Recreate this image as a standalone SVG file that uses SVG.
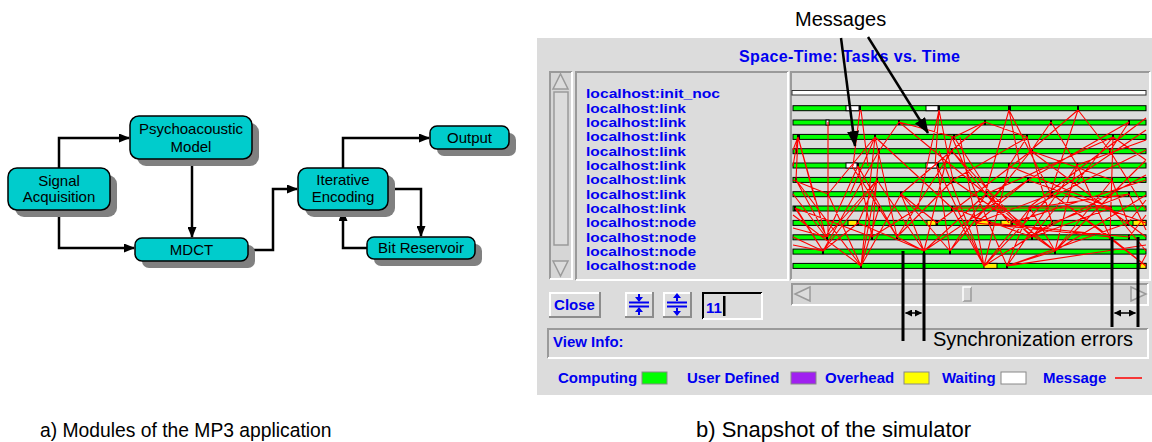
<svg xmlns="http://www.w3.org/2000/svg" width="1152" height="442" viewBox="0 0 1152 442">
<style>
.sh{fill:#808080}
.bx{fill:#00cccc;stroke:#000;stroke-width:1.5}
.t{font-family:"Liberation Sans",Arial,sans-serif;font-size:15px;fill:#000;text-anchor:middle}
.cn{fill:none;stroke:#000;stroke-width:2.5}
.cap{font-family:"Liberation Sans",Arial,sans-serif;font-size:19.3px;fill:#000}
.ann{font-family:"Liberation Sans",Arial,sans-serif;font-size:20px;fill:#000}
.b{font-family:"Liberation Sans",Arial,sans-serif;font-weight:bold;font-size:15px;fill:#0000f0}
.lb{font-family:"Liberation Sans",Arial,sans-serif;font-weight:bold;font-size:13.4px;fill:#0000f0}
.bar{fill:#00ff00;stroke:#000;stroke-width:1}
.mk{fill:#000}
.wt{fill:#fff;stroke:#000;stroke-width:1}
.yl{fill:#ffee00;stroke:#000;stroke-width:1}
.dk{stroke:#9a9a9a;stroke-width:2;fill:none}
.lt{stroke:#fff;stroke-width:2;fill:none}
.msg{fill:none;stroke:#ff0000;stroke-width:1.1}
.ico{stroke:#0000f0;stroke-width:2;fill:none}
</style>
<defs>
<marker id="ah" markerUnits="userSpaceOnUse" markerWidth="11" markerHeight="9" refX="10" refY="4.5" orient="auto"><path d="M0,0 L11,4.5 L0,9 z" fill="#000"/></marker>
<marker id="ahb" markerUnits="userSpaceOnUse" markerWidth="16" markerHeight="12" refX="15" refY="6" orient="auto"><path d="M0,0 L16,6 L0,12 z" fill="#000"/></marker>
<marker id="ahs" markerUnits="userSpaceOnUse" markerWidth="7" markerHeight="7" refX="6.5" refY="3.5" orient="auto-start-reverse"><path d="M0,0 L7,3.5 L0,7 z" fill="#000"/></marker>
</defs>
<rect width="1152" height="442" fill="#fff"/>

<!-- Left diagram -->
<g id="connectors">
<path class="cn" d="M59,168 V138 H129" marker-end="url(#ah)"/>
<path class="cn" d="M59,210 V248 H134" marker-end="url(#ah)"/>
<path class="cn" d="M192,159 V237" marker-end="url(#ah)"/>
<path class="cn" d="M248,250 H273 V189 H297" marker-end="url(#ah)"/>
<path class="cn" d="M343,168 V138 H429" marker-end="url(#ah)"/>
<path class="cn" d="M388,189 H421 V236" marker-end="url(#ah)"/>
<path class="cn" d="M367,248 H343 V211" marker-end="url(#ah)"/>
</g>
<g id="signal">
<rect class="sh" x="15" y="175" width="102" height="42" rx="9"/>
<rect class="bx" x="8" y="168" width="102" height="42" rx="9"/>
<text class="t" x="59" y="186">Signal</text>
<text class="t" x="59" y="202">Acquisition</text>
</g>
<g id="psycho">
<rect class="sh" x="137" y="123" width="122" height="43" rx="9"/>
<rect class="bx" x="130" y="116" width="122" height="43" rx="9"/>
<text class="t" x="191" y="134">Psychoacoustic</text>
<text class="t" x="191" y="152">Model</text>
</g>
<g id="mdct">
<rect class="sh" x="142" y="245" width="113" height="23" rx="7"/>
<rect class="bx" x="135" y="238" width="113" height="23" rx="7"/>
<text class="t" x="191.5" y="255">MDCT</text>
</g>
<g id="iterative">
<rect class="sh" x="305" y="175" width="90" height="42" rx="9"/>
<rect class="bx" x="298" y="168" width="90" height="42" rx="9"/>
<text class="t" x="343" y="185">Iterative</text>
<text class="t" x="343" y="202">Encoding</text>
</g>
<g id="output">
<rect class="sh" x="437" y="133" width="79" height="23" rx="7"/>
<rect class="bx" x="430" y="126" width="79" height="23" rx="7"/>
<text class="t" x="469.5" y="143">Output</text>
</g>
<g id="bitres">
<rect class="sh" x="374" y="244" width="108" height="22" rx="7"/>
<rect class="bx" x="367" y="237" width="108" height="22" rx="7"/>
<text class="t" x="421" y="253">Bit Reservoir</text>
</g>
<text class="cap" x="40" y="437">a) Modules of the MP3 application</text>

<!-- Simulator snapshot -->
<g id="simulator">
<rect x="537" y="38" width="615" height="357" fill="#dcdcdc"/>
<text class="b" x="739" y="62" style="font-size:16px" textLength="221">Space-Time: Tasks vs. Time</text>

<!-- vertical scrollbar -->
<rect x="549" y="71" width="23" height="208" fill="#d6d6d6"/>
<path class="dk" d="M550,279 V72 H572"/>
<path class="lt" d="M572,72 V279 H550"/>
<path d="M553,89 L560.5,74 L568,89 Z" fill="#dcdcdc" stroke="#9a9a9a" stroke-width="1.5"/>
<path d="M554,92 H568 V245 H554 Z" fill="#dcdcdc" stroke="#9a9a9a" stroke-width="1.5"/>
<path d="M553,261 L560.5,276 L568,261 Z" fill="#dcdcdc" stroke="#9a9a9a" stroke-width="1.5"/>

<!-- label panel -->
<rect x="575" y="71" width="213" height="209" fill="#dcdcdc"/>
<path class="dk" d="M576,280 V72 H788"/>
<path class="lt" d="M788,72 V280 H576"/>
<g lengthAdjust="spacingAndGlyphs">
<text class="lb" x="586" y="98.3" textLength="134" lengthAdjust="spacingAndGlyphs">localhost:init_noc</text>
<text class="lb" x="586" y="112.6" textLength="100" lengthAdjust="spacingAndGlyphs">localhost:link</text>
<text class="lb" x="586" y="127" textLength="100" lengthAdjust="spacingAndGlyphs">localhost:link</text>
<text class="lb" x="586" y="141.3" textLength="100" lengthAdjust="spacingAndGlyphs">localhost:link</text>
<text class="lb" x="586" y="155.6" textLength="100" lengthAdjust="spacingAndGlyphs">localhost:link</text>
<text class="lb" x="586" y="170" textLength="100" lengthAdjust="spacingAndGlyphs">localhost:link</text>
<text class="lb" x="586" y="184.3" textLength="100" lengthAdjust="spacingAndGlyphs">localhost:link</text>
<text class="lb" x="586" y="198.6" textLength="100" lengthAdjust="spacingAndGlyphs">localhost:link</text>
<text class="lb" x="586" y="213" textLength="100" lengthAdjust="spacingAndGlyphs">localhost:link</text>
<text class="lb" x="586" y="227.3" textLength="110" lengthAdjust="spacingAndGlyphs">localhost:node</text>
<text class="lb" x="586" y="241.6" textLength="110" lengthAdjust="spacingAndGlyphs">localhost:node</text>
<text class="lb" x="586" y="256" textLength="110" lengthAdjust="spacingAndGlyphs">localhost:node</text>
<text class="lb" x="586" y="270.3" textLength="110" lengthAdjust="spacingAndGlyphs">localhost:node</text>
</g>

<!-- timeline frame -->
<path class="dk" d="M791,280 V72 H1150"/>
<path class="lt" d="M1150,72 V280 H791"/>
<rect x="792" y="90.5" width="354" height="4.5" fill="#fff" stroke="#333" stroke-width="1"/>

<!-- bars -->
<g id="bars">
<rect class="bar" x="793" y="105.7" width="353" height="5"/>
<rect class="bar" x="793" y="120" width="353" height="5"/>
<rect class="bar" x="793" y="134.4" width="353" height="5"/>
<rect class="bar" x="793" y="148.7" width="353" height="5"/>
<rect class="bar" x="793" y="163" width="353" height="5"/>
<rect class="bar" x="793" y="177.4" width="353" height="5"/>
<rect class="bar" x="793" y="191.7" width="353" height="5"/>
<rect class="bar" x="793" y="206" width="353" height="5"/>
<rect class="bar" x="793" y="220.4" width="353" height="5"/>
<rect class="bar" x="793" y="234.8" width="353" height="5"/>
<rect class="bar" x="793" y="249.1" width="353" height="5"/>
<rect class="bar" x="793" y="263.4" width="353" height="5"/>
<rect class="wt" x="846" y="105.7" width="13" height="5"/><rect class="mk" x="859" y="105.7" width="2" height="5"/>
<rect class="wt" x="926" y="105.7" width="12" height="5"/><rect class="mk" x="938" y="105.7" width="2" height="5"/>
<rect class="mk" x="1008" y="105.7" width="3" height="5"/><rect class="mk" x="1077" y="105.7" width="2" height="5"/>
<rect class="wt" x="826" y="120" width="3" height="5"/>
<rect class="mk" x="898" y="120" width="2" height="5"/><rect class="mk" x="984" y="120" width="2" height="5"/><rect class="mk" x="1050" y="120" width="2" height="5"/><rect class="mk" x="1128" y="120" width="2" height="5"/>
<rect class="mk" x="797" y="134.4" width="3" height="5"/><rect class="mk" x="874" y="134.4" width="2" height="5"/><rect class="mk" x="953" y="134.4" width="2" height="5"/><rect class="mk" x="1026" y="134.4" width="2" height="5"/><rect class="mk" x="1112" y="134.4" width="2" height="5"/>
<rect class="mk" x="795" y="148.7" width="2" height="5"/><rect class="mk" x="878" y="148.7" width="2" height="5"/><rect class="mk" x="951" y="148.7" width="2" height="5"/><rect class="mk" x="1030" y="148.7" width="3" height="5"/><rect class="mk" x="1109" y="148.7" width="2" height="5"/>
<rect class="wt" x="846" y="163" width="11" height="5"/><rect class="mk" x="857" y="163" width="2" height="5"/>
<rect class="wt" x="926" y="163" width="11" height="5"/><rect class="mk" x="937" y="163" width="2" height="5"/>
<rect class="mk" x="1008" y="163" width="2" height="5"/><rect class="mk" x="1076" y="163" width="2" height="5"/>
<rect class="mk" x="795" y="177.4" width="2" height="5"/><rect class="mk" x="876" y="177.4" width="2" height="5"/><rect class="mk" x="952" y="177.4" width="2" height="5"/><rect class="mk" x="1027" y="177.4" width="2" height="5"/><rect class="mk" x="1111" y="177.4" width="2" height="5"/>
<rect class="mk" x="827" y="191.7" width="2" height="5"/><rect class="mk" x="900" y="191.7" width="2" height="5"/><rect class="mk" x="985" y="191.7" width="2" height="5"/><rect class="mk" x="1051" y="191.7" width="2" height="5"/><rect class="mk" x="1128" y="191.7" width="2" height="5"/>
<rect class="mk" x="794" y="206" width="2" height="5"/><rect class="mk" x="878" y="206" width="2" height="5"/><rect class="mk" x="951" y="206" width="2" height="5"/><rect class="mk" x="1029" y="206" width="2" height="5"/><rect class="mk" x="1110" y="206" width="2" height="5"/>
<rect class="yl" x="848" y="220.4" width="9" height="5"/><rect class="mk" x="857" y="220.4" width="2" height="5"/>
<rect class="yl" x="927" y="220.4" width="9" height="5"/><rect class="mk" x="936" y="220.4" width="2" height="5"/>
<rect class="yl" x="976" y="220.4" width="13" height="5"/><rect class="mk" x="989" y="220.4" width="2" height="5"/>
<rect class="yl" x="1001" y="220.4" width="10" height="5"/><rect class="mk" x="1011" y="220.4" width="2" height="5"/>
<rect class="mk" x="1051" y="220.4" width="2" height="5"/><rect class="mk" x="1127" y="220.4" width="2" height="5"/>
<rect class="yl" x="1133" y="220.4" width="13" height="5"/>
<rect class="mk" x="826" y="234.8" width="2" height="5"/><rect class="mk" x="871" y="234.8" width="2" height="5"/><rect class="mk" x="896" y="234.8" width="2" height="5"/><rect class="mk" x="1031" y="234.8" width="2" height="5"/><rect class="mk" x="1109" y="234.8" width="2" height="5"/><rect class="mk" x="1128" y="234.8" width="2" height="5"/>
<rect class="mk" x="822" y="249.1" width="2" height="5"/><rect class="mk" x="923" y="249.1" width="2" height="5"/><rect class="mk" x="949" y="249.1" width="2" height="5"/><rect class="mk" x="1054" y="249.1" width="2" height="5"/>
<rect class="mk" x="860" y="263.4" width="2" height="5"/>
<rect class="yl" x="984" y="263.4" width="13" height="5"/><rect class="mk" x="1006" y="263.4" width="2" height="5"/>
<rect class="yl" x="1140" y="263.4" width="6" height="5"/>
</g>

<!-- messages -->
<path class="msg" d="
M860,110 L853,166 M861,110 L868,166 M828,122 L828,237
M798,137 L793,166 M798,137 L826,237 M798,137 L815,200 M798,137 L796,180
M875,137 L861,266 M875,137 L897,237 M875,137 L850,194
M826,237 L793,194 M826,237 L858,166
M861,266 L793,215 M861,266 L828,194 M861,266 L877,180 M861,266 L901,194
M823,251 L796,208 M823,251 L858,223 M823,251 L793,237
M872,237 L858,166 M872,237 L879,151 M897,237 L879,208 M897,237 L924,251
M858,223 L877,180 M796,180 L827,237 M879,208 L852,166
M939,110 L935,166 M939,110 L918,208 M939,110 L953,180
M1009,110 L985,194 M1009,110 L1020,166
M984,266 L939,151 M984,266 L952,208 M984,266 L1009,166 M984,266 L1030,208 M984,266 L1052,223 M984,266 L960,137
M924,251 L901,194 M924,251 L952,137
M950,251 L986,194 M950,251 L937,166 M950,251 L1009,180
M954,137 L985,122 M953,180 L1028,137 M901,194 L985,122 M937,223 L1031,151 M976,223 L1052,194
M1032,237 L952,151 M1032,237 L986,194 M1007,266 L1055,251 M1007,266 L1077,165
M1078,110 L1030,151 M1078,110 L1110,151 M1078,110 L1050,194
M1051,122 L1077,165 M1129,122 L1110,151
M1146,118 L1028,208 M1146,130 L1052,194 M1146,160 L1055,251 M1146,175 L1030,237
M1113,137 L1110,237 M1112,180 L1128,223 M1110,237 L1052,194 M1110,237 L1146,266
M1055,251 L1030,208 M1055,251 L1077,165 M1128,223 L1146,200 M1111,208 L1146,251
M1031,151 L1146,237 M1028,180 L1146,223 M1052,223 L1129,194 M1030,208 L1146,150
M1077,165 L1110,237 M1009,166 L1111,208 M986,194 L1113,137 M1129,237 L1146,215 M1140,266 L1146,255
M901,194 L937,223 M877,180 L924,251 M952,208 L1032,237 M952,151 L1009,223 M986,194 L1055,251
M1028,180 L976,223 M1030,208 L1007,266 M828,194 L875,137 M795,208 L823,251 M879,208 L861,266
M953,180 L897,237 M1052,194 L984,266 M793,150 L798,137 M793,228 L826,237 M899,122 L879,151
M985,122 L1027,137 M899,122 L954,137 M1027,137 L1009,166 M1031,151 L1112,180 M952,208 L1111,208
M796,180 L861,266 M795,208 L872,237 M877,180 L826,237 M879,151 L823,251 M858,166 L897,237
M901,194 L950,251 M924,251 L986,194 M937,166 L984,266 M952,137 L1007,266 M953,180 L1055,251
M976,223 L1110,237 M990,223 L1129,237 M1011,223 L1146,180 M1028,180 L1129,122 M1030,208 L1129,194
M1032,237 L1113,137 M1052,194 L1146,266 M1055,251 L1146,195 M1009,110 L1051,194 M1077,165 L1146,140
M1110,151 L1146,210 M1112,180 L1055,251 M1129,194 L1146,230 M1111,208 L1032,237 M1007,266 L1128,223
M1007,266 L1146,245 M897,237 L952,151 M872,237 L918,208 M950,251 L1031,151 M924,251 L1028,180
M954,137 L1009,223 M899,122 L986,194 M875,137 L952,208 M1027,137 L1052,223 M1051,122 L1031,151
M1113,137 L1146,160 M1009,166 L984,266 M858,223 L924,251 M823,251 L877,180 M793,245 L823,251 M793,180 L828,194
"/>

<!-- horizontal scrollbar -->
<rect x="791" y="283" width="357" height="22" fill="#d6d6d6"/>
<path class="dk" d="M792,305 V284 H1148"/>
<path class="lt" d="M1148,284 V305 H792"/>
<path d="M810,287 L795,294 L810,301 Z" fill="#dcdcdc" stroke="#9a9a9a" stroke-width="1.5"/>
<path d="M1131,287 L1146,294 L1131,301 Z" fill="#dcdcdc" stroke="#9a9a9a" stroke-width="1.5"/>
<path d="M963,301 H971 V287" fill="none" stroke="#9a9a9a" stroke-width="1.5"/>
<path d="M963,301 V287 H971" fill="none" stroke="#fff" stroke-width="1.5"/>

<!-- buttons -->
<rect x="549" y="292" width="51" height="25" fill="#dcdcdc"/>
<path class="lt" d="M550,316 V293 H599"/>
<path stroke="#8c8c8c" stroke-width="2" fill="none" d="M600,292 V317 H549"/>
<text class="b" x="574.5" y="310" text-anchor="middle">Close</text>

<rect x="625" y="292" width="28" height="25" fill="#dcdcdc"/>
<path class="lt" d="M626,316 V293 H652"/>
<path stroke="#8c8c8c" stroke-width="2" fill="none" d="M653,292 V317 H625"/>
<path class="ico" d="M629,302.5 H649 M629,306.5 H649 M639,294 V301 M639,315 V308"/>
<path d="M635,297 L639,302 L643,297 Z M635,312 L639,307 L643,312 Z" fill="#0000f0"/>

<rect x="663" y="292" width="28" height="25" fill="#dcdcdc"/>
<path class="lt" d="M664,316 V293 H690"/>
<path stroke="#8c8c8c" stroke-width="2" fill="none" d="M691,292 V317 H663"/>
<path class="ico" d="M667,302.5 H687 M667,306.5 H687 M677,296 V301 M677,308 V313"/>
<path d="M673,298 L677,293 L681,298 Z M673,311 L677,316 L681,311 Z" fill="#0000f0"/>

<rect x="702" y="292" width="61" height="28" fill="#dcdcdc"/>
<path stroke="#000" stroke-width="2" fill="none" d="M703,319 V293 H762"/>
<path stroke="#fff" stroke-width="2" fill="none" d="M762,293 V319 H703"/>
<text class="b" x="706" y="313">11</text>
<rect x="723" y="296" width="2.5" height="20" fill="#000"/>

<!-- view info -->
<path class="dk" d="M548,358 V329 H1148"/>
<path class="lt" d="M1148,329 V358 H548"/>
<text class="b" x="553" y="347">View Info:</text>

<!-- legend -->
<text class="b" x="558" y="383">Computing</text>
<rect x="642" y="372" width="25" height="12" fill="#00ff00" stroke="#888" stroke-width="1"/>
<text class="b" x="687" y="383">User Defined</text>
<rect x="791" y="372" width="25" height="12" fill="#a020f0" stroke="#888" stroke-width="1"/>
<text class="b" x="825" y="383">Overhead</text>
<rect x="904" y="372" width="25" height="12" fill="#ffff00" stroke="#888" stroke-width="1"/>
<text class="b" x="942" y="383">Waiting</text>
<rect x="1001" y="372" width="25" height="12" fill="#ffffff" stroke="#888" stroke-width="1"/>
<text class="b" x="1043" y="383">Message</text>
<line x1="1115" y1="378" x2="1142" y2="378" stroke="#ff0000" stroke-width="1.5"/>
</g>

<!-- annotations -->
<g id="annotations">
<text class="ann" x="795" y="26">Messages</text>
<line x1="841" y1="38" x2="855" y2="146" stroke="#000" stroke-width="2.5" marker-end="url(#ahb)"/>
<line x1="868" y1="37" x2="928" y2="133" stroke="#000" stroke-width="2.5" marker-end="url(#ahb)"/>
<line x1="903" y1="251" x2="903" y2="341" stroke="#000" stroke-width="3"/>
<line x1="924" y1="253" x2="924" y2="341" stroke="#000" stroke-width="3"/>
<line x1="1112" y1="237" x2="1112" y2="327" stroke="#000" stroke-width="3"/>
<line x1="1138" y1="237" x2="1138" y2="327" stroke="#000" stroke-width="3"/>
<line x1="905.5" y1="313" x2="921.5" y2="313" stroke="#000" stroke-width="1.5" marker-start="url(#ahs)" marker-end="url(#ahs)"/>
<line x1="1114.5" y1="313" x2="1135.5" y2="313" stroke="#000" stroke-width="1.5" marker-start="url(#ahs)" marker-end="url(#ahs)"/>
<text class="ann" x="933" y="346">Synchronization errors</text>
</g>
<text class="cap" x="696" y="437" style="font-size:22px">b) Snapshot of the simulator</text>
</svg>
